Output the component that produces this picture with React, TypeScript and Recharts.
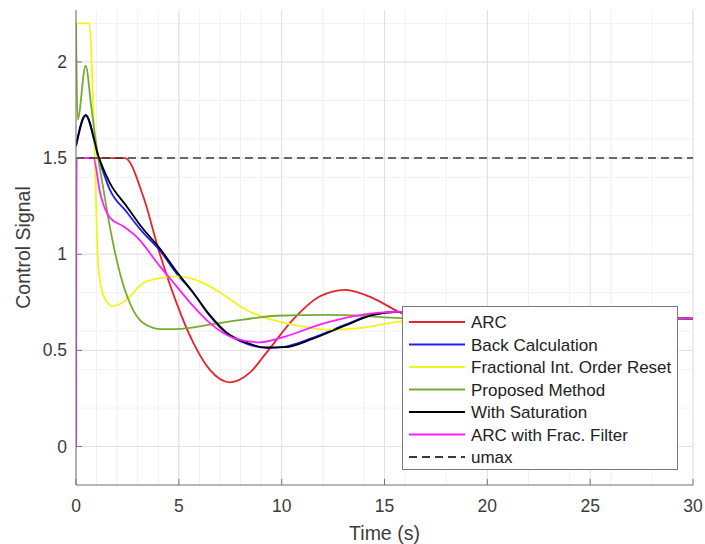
import { CartesianGrid, Label, Line, LineChart, XAxis, YAxis } from "recharts";

// time (s) / control signal pairs
const arcPoints: [number, number][] = [
  [0, 0], [0.02, 1.5], [2.38, 1.5], [3.27, 1.3], [4.08, 1.0], [4.89, 0.746],
  [5.7, 0.54], [6.5, 0.4], [7.48, 0.334], [8.45, 0.384], [9.26, 0.488],
  [10.55, 0.66], [11.84, 0.78], [13.1, 0.815], [14.43, 0.772], [15.7, 0.7],
  [18, 0.62], [21, 0.63], [25, 0.67], [30, 0.665],
];
const backCalcPoints: [number, number][] = [
  [0, 1.56], [0.47, 1.72], [1.1, 1.5], [1.65, 1.335], [2.46, 1.22], [3.2, 1.12],
  [4.08, 1.02], [4.89, 0.9], [5.7, 0.8], [6.5, 0.68], [7.3, 0.59], [8.28, 0.535],
  [9.26, 0.513], [10.2, 0.52], [11.5, 0.565], [13.1, 0.634], [14.4, 0.686],
  [15.7, 0.7], [18, 0.7], [22, 0.68], [26, 0.67], [30, 0.665],
];
const fracResetPoints: [number, number][] = [
  [0, 2.2], [0.65, 2.2], [0.78, 1.95], [0.92, 1.5], [1.05, 1.0], [1.2, 0.84],
  [1.45, 0.76], [1.81, 0.729], [2.46, 0.764], [3.27, 0.85], [4.08, 0.876],
  [4.89, 0.885], [5.7, 0.87], [6.5, 0.833], [7.3, 0.78], [8.28, 0.71],
  [9.26, 0.668], [10.55, 0.634], [12.17, 0.608], [13.8, 0.616], [15.7, 0.65],
  [18, 0.665], [22, 0.668], [26, 0.666], [30, 0.665],
];
const proposedPoints: [number, number][] = [
  [0, 2.2], [0.08, 1.7], [0.47, 1.98], [0.75, 1.76], [1.08, 1.5], [1.33, 1.34],
  [1.6, 1.17], [2.14, 0.9], [2.62, 0.746], [3.27, 0.642], [4.08, 0.611],
  [4.89, 0.611], [6.5, 0.634], [8.12, 0.66], [9.74, 0.68], [12.17, 0.685],
  [14, 0.68], [15.7, 0.668], [18, 0.665], [22, 0.665], [26, 0.665], [30, 0.665],
];
const saturationPoints: [number, number][] = [
  [0, 1.565], [0.47, 1.725], [1.12, 1.5], [1.65, 1.37], [2.46, 1.25], [3.2, 1.14],
  [4.08, 1.03], [4.89, 0.91], [5.7, 0.8], [6.5, 0.685], [7.3, 0.595], [8.28, 0.54],
  [9.26, 0.515], [10.2, 0.517], [11.5, 0.56], [13.1, 0.63], [14.4, 0.683],
  [15.7, 0.7], [18, 0.7], [22, 0.68], [26, 0.67], [30, 0.665],
];
const arcFracPoints: [number, number][] = [
  [0, 0], [0.02, 1.5], [0.85, 1.5], [1.17, 1.32], [1.65, 1.19], [2.3, 1.145],
  [2.95, 1.09], [4.08, 0.937], [4.89, 0.833], [5.7, 0.73], [6.5, 0.643],
  [7.64, 0.565], [8.93, 0.542], [10.2, 0.573], [11.84, 0.634], [13.46, 0.677],
  [15.7, 0.7], [18, 0.69], [22, 0.675], [26, 0.668], [30, 0.665],
];
const umaxPoints: [number, number][] = [[0, 1.5], [30, 1.5]];

const xTicks = [0, 5, 10, 15, 20, 25, 30];
const yTicks = [0, 0.5, 1, 1.5, 2];
const xMinor = Array.from({ length: 31 }, (_, i) => i);
const yMinor = Array.from({ length: 25 }, (_, i) => +((i - 2) / 10).toFixed(1));

const series = [
  { name: "ARC", points: arcPoints, color: "#e8232b", dash: undefined },
  { name: "Back Calculation", points: backCalcPoints, color: "#1e1eff", dash: undefined },
  { name: "Fractional Int. Order Reset", points: fracResetPoints, color: "#f4f41a", dash: undefined },
  { name: "Proposed Method", points: proposedPoints, color: "#77ac30", dash: undefined },
  { name: "With Saturation", points: saturationPoints, color: "#000000", dash: undefined },
  { name: "ARC with Frac. Filter", points: arcFracPoints, color: "#ff1eff", dash: undefined },
  { name: "umax", points: umaxPoints, color: "#3a3a3a", dash: "8 5" },
];

const AXIS = "#767676";
const TEXT = "#3c3c3c";
const FONT = '"Liberation Sans", Arial, sans-serif';

const toRows = (pts: [number, number][]) => pts.map(([t, u]) => ({ t, u }));

function XTick(props: any) {
  const { x, y, payload } = props;
  return (
    <g>
      <line x1={x} x2={x} y1={y - 8} y2={y - 14} stroke={AXIS} />
      <text x={x} y={y + 19} textAnchor="middle" fontSize={17.5} fill={TEXT} fontFamily={FONT}>
        {payload.value}
      </text>
    </g>
  );
}

function YTick(props: any) {
  const { x, y, payload } = props;
  return (
    <g>
      <line x1={x + 8} x2={x + 14} y1={y} y2={y} stroke={AXIS} />
      <text x={x - 1} y={y + 6} textAnchor="end" fontSize={17.5} fill={TEXT} fontFamily={FONT}>
        {payload.value}
      </text>
    </g>
  );
}

function ChartLegend() {
  return (
    <div
      style={{
        position: "absolute",
        left: 402,
        top: 306,
        width: 276,
        height: 164,
        background: "#fff",
        border: "1px solid #7a7a7a",
        boxSizing: "border-box",
      }}
    >
      <svg width={274} height={162}>
        {series.map((s, i) => {
          const cy = 15 + i * 22.5;
          return (
            <g key={s.name}>
              <line
                x1={6}
                x2={62}
                y1={cy}
                y2={cy}
                stroke={s.color}
                strokeWidth={1.8}
                strokeDasharray={s.dash}
              />
              <text x={68} y={cy + 6} fontSize={17} fill="#222" fontFamily={FONT}>
                {s.name}
              </text>
            </g>
          );
        })}
      </svg>
    </div>
  );
}

export default function App() {
  return (
    <div
      style={{
        position: "absolute",
        left: 0,
        top: 0,
        width: 705,
        height: 544,
        background: "#fff",
        fontFamily: FONT,
      }}
    >
      <LineChart width={705} height={544} margin={{ top: 10, right: 12, bottom: 0, left: 0 }}>
        <CartesianGrid stroke="#f1f1f1" horizontalValues={yMinor} verticalValues={xMinor} />
        <CartesianGrid stroke="#e0e0e0" horizontalValues={yTicks} verticalValues={xTicks} />
        <XAxis
          type="number"
          dataKey="t"
          domain={[0, 30]}
          ticks={xTicks}
          allowDataOverflow
          height={59}
          stroke={AXIS}
          tickLine={false}
          tick={<XTick />}
        >
          <Label
            value="Time (s)"
            position="insideBottom"
            offset={4}
            fontSize={19.5}
            fill={TEXT}
            fontFamily={FONT}
          />
        </XAxis>
        <YAxis
          type="number"
          domain={[-0.2, 2.27]}
          ticks={yTicks}
          allowDataOverflow
          width={76}
          stroke={AXIS}
          tickLine={false}
          tick={<YTick />}
        >
          <Label
            content={() => (
              <text
                x={23}
                y={247.5}
                transform="rotate(-90 23 247.5)"
                textAnchor="middle"
                dominantBaseline="central"
                fontSize={19.5}
                fill={TEXT}
                fontFamily={FONT}
              >
                Control Signal
              </text>
            )}
          />
        </YAxis>
        {series.map((s) => (
          <Line
            key={s.name}
            data={toRows(s.points)}
            dataKey="u"
            type={s.dash ? "linear" : "monotone"}
            stroke={s.color}
            strokeWidth={s.dash ? 1.5 : 1.8}
            strokeDasharray={s.dash}
            dot={false}
            activeDot={false}
            isAnimationActive={false}
          />
        ))}
      </LineChart>
      <ChartLegend />
    </div>
  );
}
